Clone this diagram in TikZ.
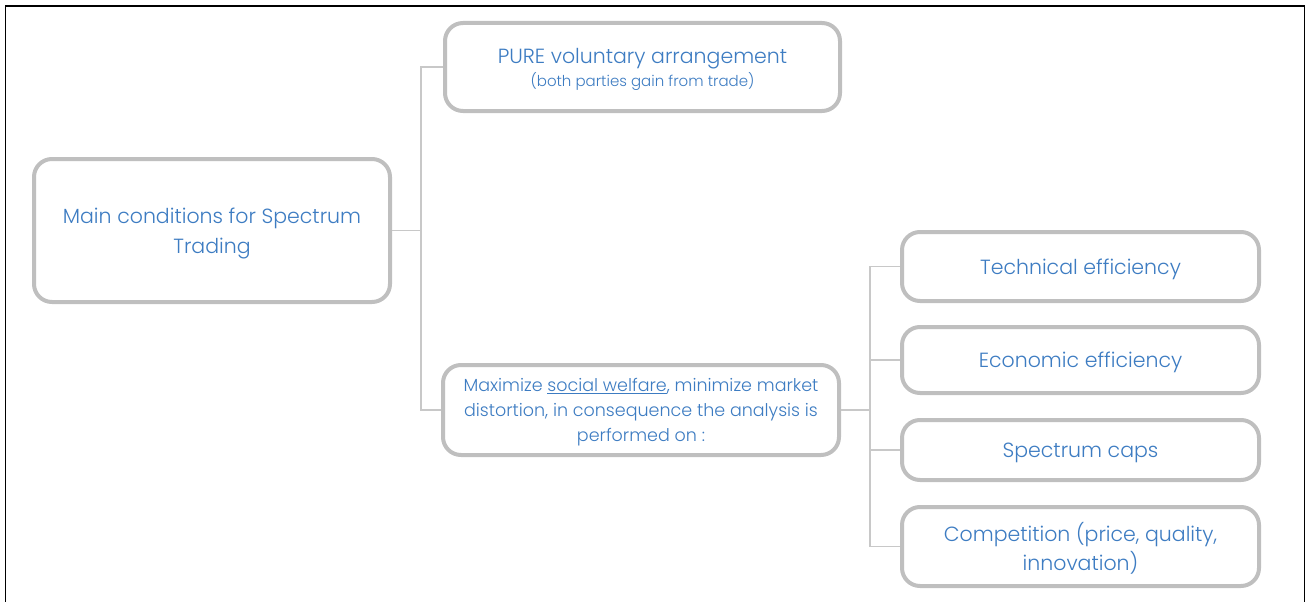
\documentclass[tikz,border=0pt]{standalone}
\usepackage{fontspec}
\setmainfont{Poppins}[UprightFont={* Light}]
\definecolor{txtblue}{HTML}{3D7CC2}
\definecolor{boxgray}{HTML}{BFBFBF}
\definecolor{linkgray}{HTML}{C8C8C8}
\tikzset{
  card/.style={draw=boxgray, line width=4pt, rounded corners=18pt, fill=white,
    text=txtblue, align=center, inner sep=0pt, text depth=0pt},
  big/.style={font=\fontsize{20.5}{29.5}\selectfont},
  link/.style={draw=linkgray, line width=1.5pt},
}
\begin{document}
\begin{tikzpicture}[x=1pt,y=-1pt]
\useasboundingbox (0,0) rectangle (1309,602);
% frame: left, top and right sides
\draw[black, line width=1.6pt] (5.5,602) -- (5.5,6) -- (1304.5,6) -- (1304.5,602);

\node[card, big, minimum width=356pt, minimum height=143pt]
  (main) at (212,230.5) {Main conditions for Spectrum\\Trading};
\node[card, minimum width=395pt, minimum height=88pt, font=\fontsize{20.5}{23}\selectfont]
  (pure) at (642.5,67) {PURE voluntary arrangement\\
  {\fontsize{15}{23}\selectfont (both parties gain from trade)}};
\node[card, minimum width=396pt, minimum height=90pt, font=\fontsize{17.5}{25}\selectfont]
  (maxz) at (641,410) {Maximize \underline{social welfare}, minimize market\\distortion, in consequence the analysis is\\performed on :};

\node[card, big, minimum width=357pt, minimum height=69pt]
  (tech) at (1080.5,266.5) {Technical efficiency};
\node[card, big, minimum width=357pt, minimum height=66pt]
  (econ) at (1080.5,360) {Economic efficiency};
\node[card, big, minimum width=357pt, minimum height=60pt]
  (caps) at (1080.5,450) {Spectrum caps};
\node[card, big, minimum width=357pt, minimum height=79pt]
  (comp) at (1080.5,546.5) {Competition (price, quality,\\innovation)};

% tree connectors
\coordinate (j1) at (421,230.5);
\coordinate (j2) at (870,410);
\draw[link] (main.east) -- (j1);
\draw[link] (j1) |- (pure.west);
\draw[link] (j1) |- (maxz.west);
\draw[link] (maxz.east) -- (j2);
\draw[link] (j2) |- (tech.west);
\draw[link] (j2) |- (econ.west);
\draw[link] (j2) |- (caps.west);
\draw[link] (j2) |- (comp.west);
\end{tikzpicture}
\end{document}
